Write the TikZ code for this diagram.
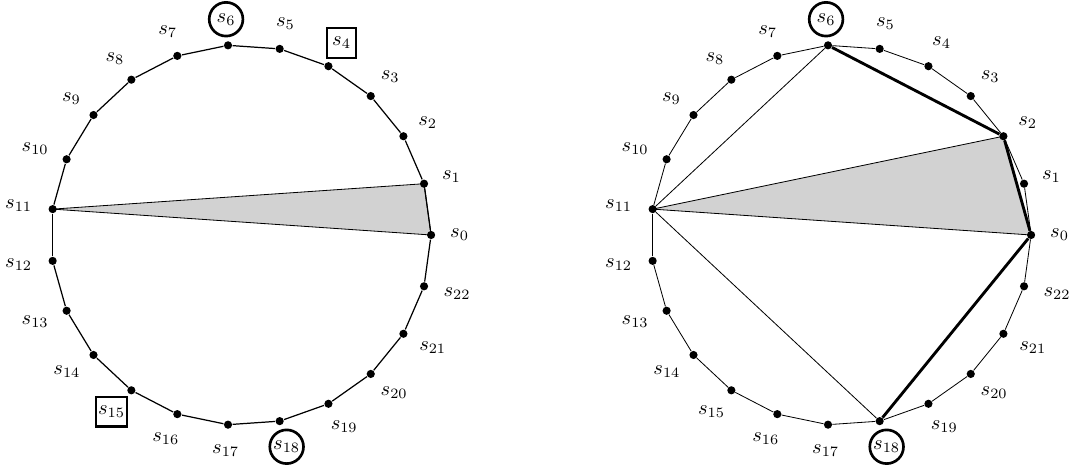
\documentclass[tikz,border=0pt]{standalone}
\usepackage{amsmath, amssymb}
\usepackage{xcolor}
\usepackage{tikz}
\usetikzlibrary{positioning, calc, backgrounds}

\begin{document}
\begin{tikzpicture}[
    semithick,
    vertex/.style={circle, fill, inner sep=0pt, minimum size=4pt},
    tag/.style={inner sep=1pt},
    ring/.style={circle, draw, line width=1.3pt, inner sep=0.5pt, minimum size=16.5pt},
    framed/.style={rectangle, draw, line width=1.1pt, inner sep=1pt, minimum size=14.5pt},
    bold/.style={line width=1.4pt}
]
\useasboundingbox (-4.145,-4.111) rectangle (14.345,4.042);

% left polygon
\foreach \i/\how in {0/tag,1/tag,2/tag,3/tag,4/framed,5/tag,6/ring,7/tag,8/tag,9/tag,10/tag,11/tag,
                     12/tag,13/tag,14/tag,15/framed,16/tag,17/tag,18/ring,19/tag,20/tag,21/tag,22/tag} {
    \pgfmathsetmacro{\ang}{\i*360/23}
    \pgfmathsetmacro{\rx}{\i<10 ? 3.76 : 3.86}
    \node[vertex] (l\i) at (\ang:3.27) {};
    \node[\how] (ll\i) at (\ang:\rx cm and 3.72cm) {$s_{\i}$};
}
\foreach \i in {0,...,22} {
    \pgfmathtruncatemacro{\j}{mod(\i+1,23)}
    \draw (l\i) -- (l\j);
}
\begin{pgfonlayer}{background}
    \draw[fill=gray!35] (l11.center) -- (l1.center) -- (l0.center) -- cycle;
\end{pgfonlayer}

% right polygon
\begin{scope}[xshift=10.32cm]
\foreach \i/\how in {0/tag,1/tag,2/tag,3/tag,4/tag,5/tag,6/ring,7/tag,8/tag,9/tag,10/tag,11/tag,
                     12/tag,13/tag,14/tag,15/tag,16/tag,17/tag,18/ring,19/tag,20/tag,21/tag,22/tag} {
    \pgfmathsetmacro{\ang}{\i*360/23}
    \pgfmathsetmacro{\rx}{\i<10 ? 3.76 : 3.86}
    \node[vertex] (r\i) at (\ang:3.27) {};
    \node[\how] (rl\i) at (\ang:\rx cm and 3.72cm) {$s_{\i}$};
}
\foreach \i in {0,...,22} {
    \pgfmathtruncatemacro{\j}{mod(\i+1,23)}
    \draw (r\i) -- (r\j);
}
\end{scope}
\begin{pgfonlayer}{background}
    \draw[fill=gray!35] (r11.center) -- (r2.center) -- (r0.center) -- cycle;
\end{pgfonlayer}
\draw (r11) -- (r6);
\draw (r11) -- (r18);
\draw[bold] (r6) -- (r2);
\draw[bold] (r2) -- (r0);
\draw[bold] (r0) -- (r18);

\end{tikzpicture}
\end{document}
